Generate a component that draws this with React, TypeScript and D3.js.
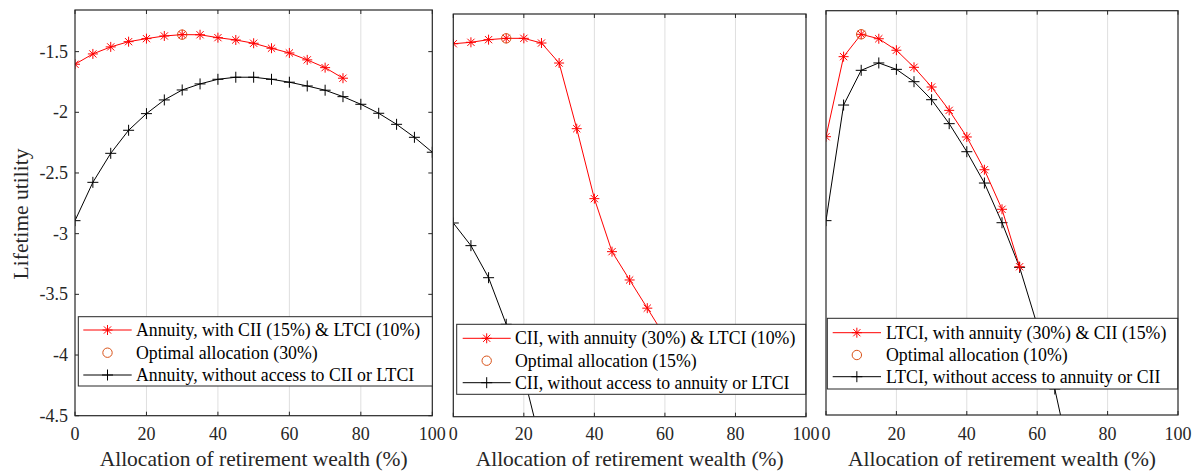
import React from 'react';
import * as d3 from 'd3';

// ---------- data ----------
const annuityWithX = [0, 5, 10, 15, 20, 25, 30, 35, 40, 45, 50, 55, 60, 65, 70, 75];
const annuityWithY = [-1.604, -1.519, -1.461, -1.418, -1.393, -1.371, -1.36, -1.361, -1.385, -1.404, -1.431, -1.472, -1.511, -1.568, -1.632, -1.719];
const annuityWithoutX = [0, 5, 10, 15, 20, 25, 30, 35, 40, 45, 50, 55, 60, 65, 70, 75, 80, 85, 90, 95, 100];
const annuityWithoutY = [-2.893, -2.577, -2.338, -2.148, -2.011, -1.898, -1.816, -1.766, -1.728, -1.711, -1.711, -1.728, -1.752, -1.783, -1.818, -1.871, -1.934, -2.008, -2.099, -2.206, -2.329];

const ciiWithX = [0, 5, 10, 15, 20, 25, 30, 35, 40, 45, 50, 55, 60];
const ciiWithY = [-1.404, -1.392, -1.37, -1.359, -1.359, -1.398, -1.564, -2.109, -2.69, -3.13, -3.365, -3.599, -3.835];
const ciiWithoutX = [0, 5, 10, 15, 20, 25];
const ciiWithoutY = [-2.892, -3.08, -3.346, -3.733, -4.162, -4.749];

const ltciWithX = [0, 5, 10, 15, 20, 25, 30, 35, 40, 45, 50, 55];
const ltciWithY = [-2.199, -1.537, -1.352, -1.389, -1.484, -1.625, -1.788, -1.981, -2.201, -2.472, -2.799, -3.274];
const ltciWithoutX = [0, 5, 10, 15, 20, 25, 30, 35, 40, 45, 50, 55, 60, 65, 70];
const ltciWithoutY = [-2.893, -1.937, -1.65, -1.589, -1.642, -1.744, -1.893, -2.091, -2.323, -2.582, -2.91, -3.279, -3.756, -4.285, -4.95];

const optimalX = [30, 15, 10];
const optimalY = [-1.36, -1.359, -1.352];

const legendWith = ['Annuity, with CII (15%) & LTCI (10%)', 'CII, with annuity (30%) & LTCI (10%)', 'LTCI, with annuity (30%) & CII (15%)'];
const legendOptimal = ['Optimal allocation (30%)', 'Optimal allocation (15%)', 'Optimal allocation (10%)'];
const legendWithout = ['Annuity, without access to CII or LTCI', 'CII, without access to annuity or LTCI', 'LTCI, without access to annuity or CII'];

const xTicks = [0, 20, 40, 60, 80, 100];
const yTicks = [-4.5, -4, -3.5, -3, -2.5, -2, -1.5];
const yTickLabels = ['-4.5', '-4', '-3.5', '-3', '-2.5', '-2', '-1.5'];
const yDomain = [-4.5, -1.157];
const xLabel = 'Allocation of retirement wealth (%)';
const yLabel = 'Lifetime utility';

// ---------- layout ----------
const panels = [
  { left: 75, right: 432.3, top: 10, bottom: 415.7, legend: { x0: 78.3, x1: 432.3, y0: 316.7, y1: 386, lx0: 83.3, lx1: 131.7, tx: 136, rows: [330, 352.7, 375] }, yAxis: true },
  { left: 453.3, right: 806, top: 14, bottom: 416.7, legend: { x0: 456.7, x1: 805.7, y0: 324.3, y1: 394.3, lx0: 462.7, lx1: 510.7, tx: 515, rows: [338.3, 360.7, 382.7] }, yAxis: false },
  { left: 826, right: 1178, top: 10.7, bottom: 415, legend: { x0: 827.3, x1: 1177.7, y0: 318.3, y1: 389, lx0: 832.7, lx1: 881, tx: 886, rows: [332.7, 355, 376.7] }, yAxis: false },
];

const seriesWith = [
  [annuityWithX, annuityWithY],
  [ciiWithX, ciiWithY],
  [ltciWithX, ltciWithY],
];
const seriesWithout = [
  [annuityWithoutX, annuityWithoutY],
  [ciiWithoutX, ciiWithoutY],
  [ltciWithoutX, ltciWithoutY],
];

const RED = '#ff0000';
const ORANGE = '#D95319';
const AX = '#262626';
const FONT = 'Liberation Serif';

function Star({ x, y, s = 5 }: { x: number; y: number; s?: number }) {
  const d = s * 0.72;
  return (
    <g stroke={RED} strokeWidth={1}>
      <line x1={x - s} y1={y} x2={x + s} y2={y} />
      <line x1={x} y1={y - s} x2={x} y2={y + s} />
      <line x1={x - d} y1={y - d} x2={x + d} y2={y + d} />
      <line x1={x - d} y1={y + d} x2={x + d} y2={y - d} />
    </g>
  );
}

function Plus({ x, y, s = 5.5 }: { x: number; y: number; s?: number }) {
  return (
    <g stroke="#000" strokeWidth={1}>
      <line x1={x - s} y1={y} x2={x + s} y2={y} />
      <line x1={x} y1={y - s} x2={x} y2={y + s} />
    </g>
  );
}

function Panel({ i }: { i: number }) {
  const p = panels[i];
  const xs = d3.scaleLinear().domain([0, 100]).range([p.left, p.right]);
  const ys = d3.scaleLinear().domain(yDomain).range([p.bottom, p.top]);
  const line = d3
    .line<[number, number]>()
    .x((d) => xs(d[0]))
    .y((d) => ys(d[1]));
  const [wx, wy] = seriesWith[i];
  const [ox, oy] = seriesWithout[i];
  const withPts: [number, number][] = wx.map((x, k) => [x, wy[k]]);
  const withoutPts: [number, number][] = ox.map((x, k) => [x, oy[k]]);
  const clipId = `clip${i}`;
  const L = p.legend;
  const tickLen = 4;
  const txt = { fontFamily: FONT };
  return (
    <g>
      <defs>
        <clipPath id={clipId}>
          <rect x={p.left} y={p.top} width={p.right - p.left} height={p.bottom - p.top} />
        </clipPath>
      </defs>
      <rect x={p.left} y={p.top} width={p.right - p.left} height={p.bottom - p.top} fill="#fff" />
      {xTicks.slice(1, -1).map((t) => (
        <line key={t} x1={xs(t)} x2={xs(t)} y1={p.top} y2={p.bottom} stroke="#dfdfdf" strokeWidth={1} />
      ))}
      <g clipPath={`url(#${clipId})`}>
        <path d={line(withoutPts) || ''} fill="none" stroke="#000" strokeWidth={1} />
        {withoutPts.map((d, k) => (
          <Plus key={k} x={xs(d[0])} y={ys(d[1])} />
        ))}
        <path d={line(withPts) || ''} fill="none" stroke={RED} strokeWidth={1} />
        {withPts.map((d, k) => (
          <Star key={k} x={xs(d[0])} y={ys(d[1])} />
        ))}
        <circle cx={xs(optimalX[i])} cy={ys(optimalY[i])} r={4.7} fill="none" stroke={ORANGE} strokeWidth={1} />
      </g>
      {xTicks.map((t) => (
        <g key={t}>
          <line x1={xs(t)} x2={xs(t)} y1={p.bottom} y2={p.bottom - tickLen} stroke={AX} />
          <line x1={xs(t)} x2={xs(t)} y1={p.top} y2={p.top + tickLen} stroke={AX} />
          <text x={xs(t)} y={440} textAnchor="middle" fontSize={18} fill={AX} style={txt}>
            {t}
          </text>
        </g>
      ))}
      {p.yAxis &&
        yTicks.map((t, k) => (
          <g key={t}>
            <line x1={p.left} x2={p.left + tickLen} y1={ys(t)} y2={ys(t)} stroke={AX} />
            <line x1={p.right} x2={p.right - tickLen} y1={ys(t)} y2={ys(t)} stroke={AX} />
            <text x={68} y={ys(t) + 6} textAnchor="end" fontSize={18} fill={AX} style={txt}>
              {yTickLabels[k]}
            </text>
          </g>
        ))}
      <rect x={p.left} y={p.top} width={p.right - p.left} height={p.bottom - p.top} fill="none" stroke={AX} strokeWidth={1.2} />
      <text x={(p.left + p.right) / 2} y={466} textAnchor="middle" fontSize={21.5} fill={AX} style={txt}>
        {xLabel}
      </text>
      <rect x={L.x0} y={L.y0} width={L.x1 - L.x0} height={L.y1 - L.y0} fill="#fff" stroke={AX} strokeWidth={1} />
      <line x1={L.lx0} x2={L.lx1} y1={L.rows[0]} y2={L.rows[0]} stroke={RED} />
      <Star x={(L.lx0 + L.lx1) / 2} y={L.rows[0]} />
      <circle cx={(L.lx0 + L.lx1) / 2} cy={L.rows[1]} r={4.7} fill="none" stroke={ORANGE} />
      <line x1={L.lx0} x2={L.lx1} y1={L.rows[2]} y2={L.rows[2]} stroke="#000" />
      <Plus x={(L.lx0 + L.lx1) / 2} y={L.rows[2]} />
      {[legendWith[i], legendOptimal[i], legendWithout[i]].map((s, k) => (
        <text key={k} x={L.tx} y={L.rows[k] + 6} fontSize={17.8} fill="#000" style={txt}>
          {s}
        </text>
      ))}
    </g>
  );
}

export default function App() {
  return (
    <svg
      width={1196}
      height={472}
      style={{ position: 'absolute', left: 0, top: 0, display: 'block', background: '#fff' }}
    >
      <rect width={1196} height={472} fill="#fff" />
      <text
        transform={`translate(28, 214) rotate(-90)`}
        textAnchor="middle"
        fontSize={21.5}
        fill={AX}
        style={{ fontFamily: FONT }}
      >
        {yLabel}
      </text>
      {[0, 1, 2].map((i) => (
        <Panel key={i} i={i} />
      ))}
    </svg>
  );
}
